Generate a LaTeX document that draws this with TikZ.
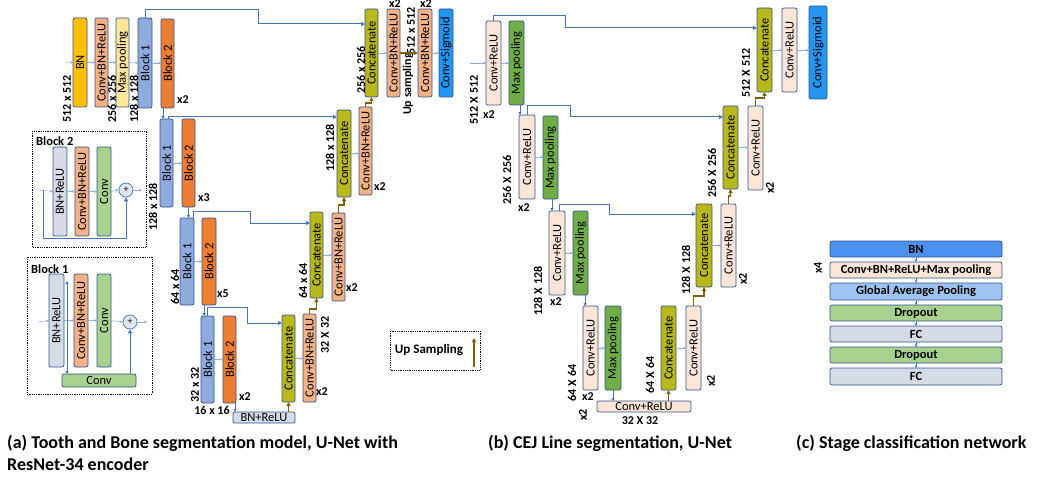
\documentclass[tikz,border=0pt]{standalone}
\usepackage{fontspec}
\setmainfont{Carlito}
\usetikzlibrary{arrows.meta}
\definecolor{bord}{RGB}{47,82,143}
\definecolor{cGold}{RGB}{255,192,0}
\definecolor{cSalmon}{RGB}{244,177,131}
\definecolor{cLY}{RGB}{255,230,153}
\definecolor{cB1}{RGB}{143,170,220}
\definecolor{cB2}{RGB}{237,125,49}
\definecolor{cGrn}{RGB}{169,209,142}
\definecolor{cGrey}{RGB}{214,220,229}
\definecolor{cCat}{RGB}{184,184,26}
\definecolor{cPeach}{RGB}{251,229,214}
\definecolor{cMP}{RGB}{112,173,71}
\definecolor{cSig}{RGB}{33,150,243}
\definecolor{cBN}{RGB}{77,145,240}
\definecolor{cGAP}{RGB}{157,195,240}
\definecolor{lnB}{RGB}{68,114,196}
\definecolor{lnT}{RGB}{143,170,220}
\definecolor{brn}{RGB}{128,96,0}
\tikzset{
  box/.style={draw=bord, line width=0.7pt, rounded corners=2pt, inner sep=0pt, outer sep=0pt},
  lab/.style={font=\fontsize{12.5}{12.5}\selectfont, inner sep=0pt},
  blab/.style={font=\bfseries\fontsize{12.5}{12.5}\selectfont, inner sep=0pt},
  dim/.style={font=\bfseries\fontsize{12}{12}\selectfont, inner sep=0pt},
  thin/.style={draw=lnT, line width=0.5pt, -{Triangle[length=2.5pt,width=2.5pt]}},
  down/.style={draw=lnB, line width=0.8pt, -{Triangle[length=3pt,width=3pt]}},
  skip/.style={draw=lnB, line width=1pt, -{Triangle[length=4pt,width=4pt]}},
  up/.style={draw=brn, line width=1.2pt, -{Triangle[length=4pt,width=4pt]}},
  dotbox/.style={draw, densely dotted, line width=0.8pt},
  capt/.style={font=\bfseries\fontsize{18}{21}\selectfont, anchor=west, inner sep=0pt},
}
\newcommand\vb[7]{%
  \pgfmathsetmacro\vbx{(#2+#4)/2}%
  \pgfmathsetmacro\vby{(#3+#5)/2}%
  \pgfmathsetmacro\vbw{#4-#2}%
  \pgfmathsetmacro\vbh{#5-#3}%
  \node[box,#6,minimum width=\vbw pt,minimum height=\vbh pt,label={[lab,rotate=90]center:#7}] (#1) at (\vbx,\vby) {};}
\newcommand\hb[7]{%
  \pgfmathsetmacro\vbx{(#2+#4)/2}%
  \pgfmathsetmacro\vby{(#3+#5)/2}%
  \pgfmathsetmacro\vbw{#4-#2}%
  \pgfmathsetmacro\vbh{#5-#3}%
  \node[box,#6,minimum width=\vbw pt,minimum height=\vbh pt,lab] (#1) at (\vbx,\vby) {#7};}
\begin{document}
\begin{tikzpicture}[x=1pt,y=-1pt]
\useasboundingbox (0,0) rectangle (1040,481);
% ================= (a) encoder =================
\vb{BN}{73}{18}{87}{107}{fill=cGold}{BN}
\vb{C1}{95}{18}{108}{107}{fill=cSalmon}{Conv+BN+ReLU}
\vb{MP}{116}{18}{129}{107}{fill=cLY}{Max pooling}
\vb{A1B1}{138}{18}{152}{108}{fill=cB1}{Block 1}
\vb{A1B2}{161}{19}{174}{108}{fill=cB2}{Block 2}
\node[dim,rotate=90] (la1) at (67,99) {512 x 512};
\node[dim,rotate=90] (la2) at (112,99) {256 x 256};
\node[dim,rotate=90] (la3) at (134,99) {128 x 128};
\node[dim] (xa1) at (183,100) {x2};
\vb{A2B1}{160}{119}{173}{207}{fill=cB1}{Block 1}
\vb{A2B2}{182}{119}{195}{207}{fill=cB2}{Block 2}
\node[dim,rotate=90] (la4) at (153,207) {128 x 128};
\node[dim] (xa2) at (204,198) {x3};
\vb{A3B1}{180}{218}{194}{305}{fill=cB1}{Block 1}
\vb{A3B2}{202}{218}{216}{305}{fill=cB2}{Block 2}
\node[dim,rotate=90] (la5) at (175,287) {64 x 64};
\node[dim] (xa3) at (223,294) {x5};
\vb{A4B1}{201}{316}{214}{403}{fill=cB1}{Block 1}
\vb{A4B2}{223}{316}{236}{403}{fill=cB2}{Block 2}
\node[dim,rotate=90] (la6) at (195,385) {32 x 32};
\node[dim] (xa4) at (245,397) {x2};
\node[dim] (la7) at (212,410) {16 x 16};
\hb{BNR}{233}{412}{295}{423}{fill=cGrey}{BN+ReLU}
% ================= (a) decoder =================
\vb{D4Cat}{282}{315}{295}{402}{fill=cCat}{Concatenate}
\vb{D4Conv}{303}{314}{316}{402}{fill=cSalmon}{Conv+BN+ReLU}
\node[dim] (xa5) at (322,392) {x2};
\node[dim,rotate=90] (la8) at (325,335) {32 X 32};
\vb{D3Cat}{310}{212}{323}{298}{fill=cCat}{Concatenate}
\vb{D3Conv}{332}{213}{345}{301}{fill=cSalmon}{Conv+BN+ReLU}
\node[dim,rotate=90] (la9) at (303,281) {64 x 64};
\node[dim] (xa6) at (352,288) {x2};
\vb{D2Cat}{337}{110}{351}{197}{fill=cCat}{Concatenate}
\vb{D2Conv}{359}{107}{372}{195}{fill=cSalmon}{Conv+BN+ReLU}
\node[dim,rotate=90] (la10) at (330,148) {128 x 128};
\node[dim] (xa7) at (380,187) {x2};
\vb{D1Cat}{365}{9}{378}{97}{fill=cCat}{Concatenate}
\vb{D1Conv}{387}{9}{400}{97}{fill=cSalmon}{Conv+BN+ReLU}
\vb{D1Conv2}{418}{9}{432}{97}{fill=cSalmon}{Conv+BN+ReLU}
\vb{Sig}{439}{9}{453}{97}{fill=cSig}{Conv+Sigmoid}
\node[dim,rotate=90] (la11) at (361,70) {256 x 256};
\node[dim] (xa8) at (395,4) {x2};
\node[dim] (xa9) at (426,4) {x2};
\node[dim,rotate=90] (la12) at (411,31) {512 x 512};
\node[dim,rotate=90] (la13) at (408,84) {Up sampling};
% (a) connectors
\coordinate (ina) at (65,62);
\draw[thin] (ina) -- (BN.west);
\draw[thin] (BN.east) -- (C1.west);
\draw[thin] (C1.east) -- (MP.west);
\draw[thin] (MP.east) -- (A1B1.west);
\draw[thin] (A1B1.east) -- (A1B1.east -| A1B2.west);
\draw[thin] (A2B1.east) -- (A2B2.west);
\draw[thin] (A3B1.east) -- (A3B2.west);
\draw[thin] (A4B1.east) -- (A4B2.west);
\draw[thin] (D4Cat.east) -- (D4Cat.east -| D4Conv.west);
\draw[thin] (D3Cat.east) -- (D3Cat.east -| D3Conv.west);
\draw[thin] (D2Cat.east) -- (D2Cat.east -| D2Conv.west);
\draw[thin] (D1Cat.east) -- (D1Conv.west);
\draw[thin] (D1Conv2.east) -- (Sig.west);
\draw[down] ([xshift=-4.5pt]A1B2.south) coordinate (da1) -- (da1 |- A2B1.north);
\draw[down] (A2B2.south) coordinate (da2) -- (da2 |- A3B1.north);
\draw[down] ([xshift=-5pt]A3B2.south) coordinate (da3) -- (da3 |- A4B1.north);
\draw[down] ([xshift=5.5pt]A4B2.south) coordinate (da4) -- (da4 |- BNR.north);
\draw[skip] (A1B1.north) -- ++(0,-8) -| (258,24) -- ([yshift=29pt]D1Cat.west);
\draw[skip] ([xshift=1.5pt]A2B1.north) -- ++(0,-2) -- ([yshift=36.5pt]D2Cat.west);
\draw[skip] ([xshift=6pt]A3B1.north) -- ++(0,-7) -| (250,223) -- ([yshift=32pt]D3Cat.west);
\draw[skip] (A4B1.north) -- ++(0,-9) -| (247,323) -- ([yshift=35.5pt]D4Cat.west);
\draw[up] (BNR.north -| D4Cat.south) -- (D4Cat.south);
\draw[up] (D4Conv.north) -- ++(0,-5) -| (D3Cat.south);
\draw[up] (D3Conv.north) -- ++(0,-8) -| (D2Cat.south);
\draw[up] (D2Conv.north) -- ++(0,-4) -| (D1Cat.south);
\draw[up] (D1Conv.east) -- (D1Conv2.west);
% ================= Block 2 inset =================
\draw[dotbox] (32,131) rectangle (146,247);
\node[blab,anchor=west] (tb2) at (36,141) {Block 2};
\vb{BNR2}{53}{147}{67}{236}{fill=cGrey}{BN+ReLU}
\vb{CBR2}{75}{147}{89}{236}{fill=cSalmon}{Conv+BN+ReLU}
\vb{CV2}{97}{147}{111}{236}{fill=cGrn}{Conv}
\node[circle,draw=lnB,fill=cGrey!70,line width=0.7pt,minimum size=14pt,inner sep=0pt,font=\fontsize{10}{10}\selectfont] (c2) at (126,190) {+};
\coordinate (in2) at (38,190);
\coordinate (out2) at (142,190);
\coordinate (s2) at (43,190);
\draw[thin] (in2) -- (BNR2.west);
\draw[thin] (BNR2.east) -- (CBR2.west);
\draw[thin] (CBR2.east) -- (CV2.west);
\draw[thin] (CV2.east) -- (c2.west);
\draw[thin] (c2.east) -- (out2);
\draw[skip] (s2) -- (43,238) -| (c2.south);
% ================= Block 1 inset =================
\draw[dotbox] (27,257) rectangle (152,394);
\node[blab,anchor=west] (tb1) at (31,269) {Block 1};
\vb{BNR1}{49}{274}{64}{367}{fill=cGrey}{BN+ReLU}
\vb{CBR1}{74}{274}{88}{367}{fill=cSalmon}{Conv+BN+ReLU}
\vb{CV1}{97}{274}{111}{367}{fill=cGrn}{Conv}
\node[circle,draw=lnB,fill=cGrey!70,line width=0.7pt,minimum size=14pt,inner sep=0pt,font=\fontsize{10}{10}\selectfont] (c1) at (130,322) {+};
\hb{ConvH}{62}{374}{136}{387}{fill=cGrn}{Conv}
\coordinate (in1) at (38,322);
\coordinate (out1) at (147,322);
\coordinate (sp1) at (67,281);
\draw[thin] (in1) -- (BNR1.west);
\draw[thin] (BNR1.east) -- (CBR1.west);
\draw[thin] (CBR1.east) -- (CV1.west);
\draw[thin] (CV1.east) -- (c1.west);
\draw[thin] (c1.east) -- (out1);
\draw[skip,{Triangle[length=3pt,width=3pt]}-{Triangle[length=3pt,width=3pt]}] (sp1) -- (sp1 |- ConvH.north);
\draw[skip] (ConvH.north -| c1.south) -- (c1.south);
% ================= legend =================
\draw[dotbox] (390,331) rectangle (480,370);
\node[blab,font=\bfseries\fontsize{13}{13}\selectfont] (legt) at (429,350) {Up Sampling};
\coordinate (leg1) at (474,367);
\coordinate (leg2) at (474,338);
\draw[up] (leg1) -- (leg2);
% ================= (b) =================
\vb{E1Conv}{486}{21}{501}{105}{fill=cPeach}{Conv+ReLU}
\vb{E1MP}{509}{21}{524}{105}{fill=cMP}{Max pooling}
\node[dim,rotate=90] (lb1) at (474,100) {512 X 512};
\node[dim] (xb1) at (489,115) {x2};
\vb{E2Conv}{519}{115}{535}{199}{fill=cPeach}{Conv+ReLU}
\vb{E2MP}{543}{116}{558}{199}{fill=cMP}{Max pooling}
\node[dim,rotate=90] (lb2) at (507,180) {256 X 256};
\node[dim] (xb2) at (524,208) {x2};
\vb{E3Conv}{549}{211}{565}{295}{fill=cPeach}{Conv+ReLU}
\vb{E3MP}{573}{211}{588}{295}{fill=cMP}{Max pooling}
\node[dim,rotate=90] (lb3) at (538,291) {128 X 128};
\node[dim] (xb3) at (556,302) {x2};
\vb{E4Conv}{583}{306}{598}{390}{fill=cPeach}{Conv+ReLU}
\vb{E4MP}{605}{306}{621}{390}{fill=cMP}{Max pooling}
\node[dim,rotate=90] (lb4) at (572,383) {64 X 64};
\node[dim] (xb4) at (588,397) {x2};
\hb{F5}{597}{401}{691}{412}{fill=cPeach}{Conv+ReLU}
\node[dim] (lb5) at (640,421) {32 X 32};
\node[dim,rotate=90] (xb5) at (583,415) {x2};
\vb{G4Cat}{661}{306}{676}{390}{fill=cCat}{Concatenate}
\vb{G4Conv}{686}{306}{701}{390}{fill=cPeach}{Conv+ReLU}
\node[dim,rotate=90] (lb6) at (650,375) {64 X 64};
\node[dim,rotate=90] (xb6) at (711,381) {x2};
\vb{G3Cat}{696}{204}{712}{287}{fill=cCat}{Concatenate}
\vb{G3Conv}{721}{204}{736}{287}{fill=cPeach}{Conv+ReLU}
\node[dim,rotate=90] (lb7) at (686,270) {128 X 128};
\node[dim,rotate=90] (xb7) at (743,279) {x2};
\vb{G2Cat}{723}{106}{738}{189}{fill=cCat}{Concatenate}
\vb{G2Conv}{748}{106}{763}{190}{fill=cPeach}{Conv+ReLU}
\node[dim,rotate=90] (lb8) at (712,173) {256 X 256};
\node[dim,rotate=90] (xb8) at (770,188) {x2};
\vb{G1Cat}{757}{8}{772}{92}{fill=cCat}{Concatenate}
\vb{G1Conv}{782}{8}{797}{92}{fill=cPeach}{Conv+ReLU}
\vb{Sig2}{809}{6}{827}{99}{fill=cSig}{Conv+Sigmoid}
\node[dim,rotate=90] (lb9) at (746,73) {512 X 512};
% (b) connectors
\coordinate (inb) at (470,63);
\draw[thin] (inb) -- (E1Conv.west);
\draw[thin] (E1Conv.east) -- (E1MP.west);
\draw[thin] (E2Conv.east) -- (E2Conv.east -| E2MP.west);
\draw[thin] (E3Conv.east) -- (E3MP.west);
\draw[thin] (E4Conv.east) -- (E4MP.west);
\draw[thin] (G4Cat.east) -- (G4Conv.west);
\draw[thin] (G3Cat.east) -- (G3Conv.west);
\draw[thin] (G2Cat.east) -- (G2Cat.east -| G2Conv.west);
\draw[thin] (G1Cat.east) -- (G1Conv.west);
\draw[thin] (G1Conv.east) -- (G1Conv.east -| Sig2.west);
\draw[down] ([xshift=3.5pt]E1MP.south) coordinate (db1) -- (db1 |- E2Conv.north);
\draw[down] ([xshift=1.5pt]E2MP.south) coordinate (db2) -- (db2 |- E3Conv.north);
\draw[down] ([xshift=4.5pt]E3MP.south) coordinate (db3) -- (db3 |- E4Conv.north);
\draw[down] (E4MP.south) coordinate (db4) -- (db4 |- F5.north);
\draw[skip] (E1Conv.north) -- ++(0,-5) -| (565,28) -- ([yshift=22pt]G1Cat.west);
\draw[skip] (E2Conv.north) -- ++(0,-9) -| (570,117) -- ([yshift=30.5pt]G2Cat.west);
\draw[skip] ([xshift=2pt]E3Conv.north) -- ++(0,-7) -| (609,214) -- ([yshift=31.5pt]G3Cat.west);
\draw[up] (F5.north -| G4Cat.south) -- (G4Cat.south);
\draw[up] (G4Conv.north) -- ++(0,-10) -| (G3Cat.south);
\draw[up] (G3Conv.north) -- ++(0,-8) -| (G2Cat.south);
\draw[up] (G2Conv.north) -- ++(0,-8) -| (G1Cat.south);
% ================= (c) =================
\tikzset{cbox/.style={box,minimum width=172pt,minimum height=16pt,font=\bfseries\fontsize{12.5}{12.5}\selectfont}}
\node[cbox,fill=cBN] (k1) at (916,249) {BN};
\node[cbox,fill=cPeach] (k2) at (916,270) {Conv+BN+ReLU+Max pooling};
\node[cbox,fill=cGAP,minimum height=17pt] (k3) at (916,291.5) {Global Average Pooling};
\node[cbox,fill=cGrn] (k4) at (916,313) {Dropout};
\node[cbox,fill=cGrey] (k5) at (916,334) {FC};
\node[cbox,fill=cGrn] (k6) at (916,355) {Dropout};
\node[cbox,fill=cGrey,minimum height=17pt] (k7) at (916,376.5) {FC};
\node[dim,rotate=90] (x4) at (818,268) {x4};
\foreach \a/\b in {k1/k2,k2/k3,k3/k4,k4/k5,k5/k6,k6/k7}
  \draw[draw=lnB,line width=0.8pt,-{Triangle[length=2.5pt,width=2.5pt]}] (\a.south) -- (\b.north);
% ================= captions =================
\node[capt] (capa) at (7,443) {(a) Tooth and Bone segmentation model, U-Net with};
\node[capt] (capa2) at (7,464) {ResNet-34 encoder};
\node[capt] (capb) at (488,443) {(b) CEJ Line segmentation, U-Net};
\node[capt] (capc) at (796,443) {(c) Stage classification network};
\end{tikzpicture}
\end{document}
